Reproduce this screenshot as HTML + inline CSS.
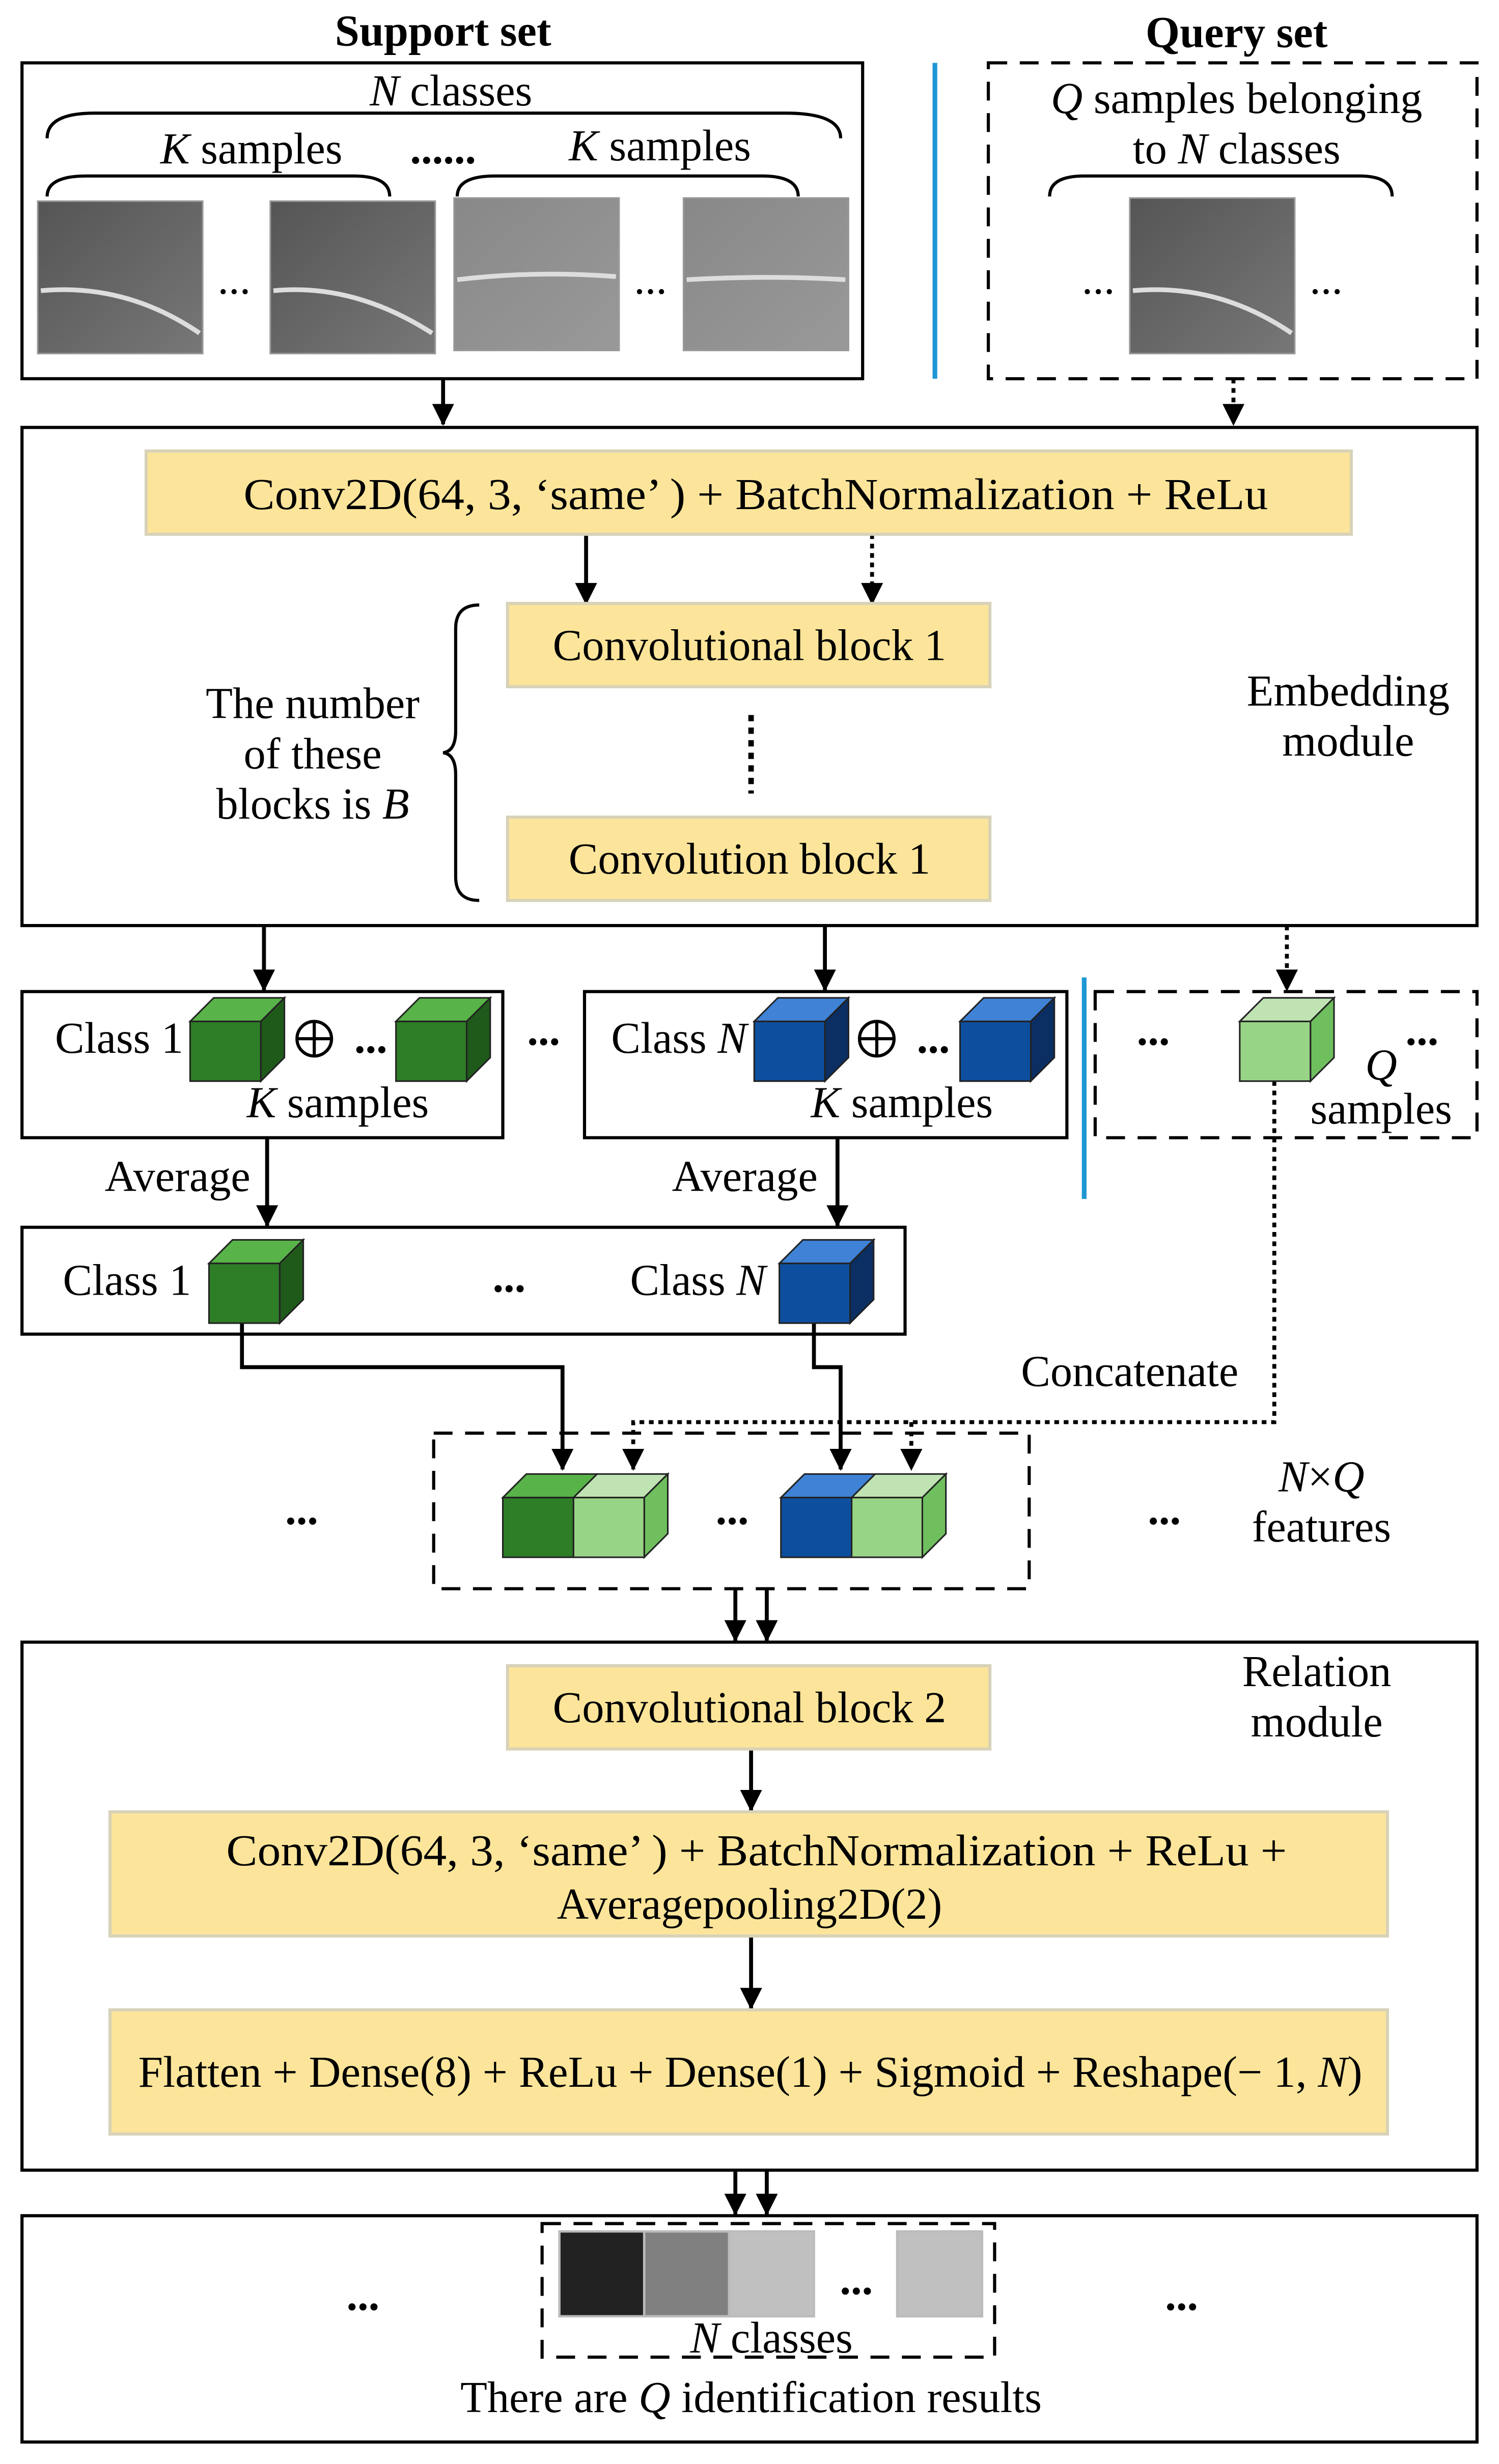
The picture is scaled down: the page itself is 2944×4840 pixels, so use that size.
<!DOCTYPE html>
<html><head><meta charset="utf-8"><style>
html,body{margin:0;padding:0;background:#fff}
svg{display:block}
text{font-family:"Liberation Serif",serif;font-size:28px;fill:#000}
</style></head><body>
<svg width="2944" height="4840" viewBox="0 0 954 1568" preserveAspectRatio="none" xmlns="http://www.w3.org/2000/svg">
<defs>
<marker id="a2" markerWidth="14" markerHeight="14" refX="13" refY="7" orient="auto" markerUnits="userSpaceOnUse"><path d="M0,0 L14,7 L0,14 z" fill="#000"/></marker>
<linearGradient id="g1" x1="0" y1="0" x2="1" y2="1"><stop offset="0" stop-color="#555"/><stop offset="1" stop-color="#777"/></linearGradient>
<linearGradient id="g2" x1="0" y1="0" x2="1" y2="1"><stop offset="0" stop-color="#888"/><stop offset="1" stop-color="#999"/></linearGradient>
</defs>
<g fill="none" stroke="#000" stroke-width="2">
<rect x="14" y="40" width="535" height="201"/>
<rect x="629" y="40" width="311" height="201" stroke-dasharray="12,8"/>
<line x1="595" y1="40" x2="595" y2="241" stroke="#1f97d4" stroke-width="3"/>
<path d="M30,88 Q30,72 60,72 L500,72 Q535,72 535,88"/>
<path d="M30,125 Q30,112 55,112 L225,112 Q248,112 248,125"/>
<path d="M291,125 Q291,112 315,112 L485,112 Q508,112 508,125"/>
<path d="M668,125 Q668,112 690,112 L865,112 Q886,112 886,125"/>
<rect x="14" y="272" width="926" height="317"/>
<path d="M305,385 Q290,385 290,400 L290,465 Q290,478 282,479 Q290,480 290,493 L290,558 Q290,573 305,573"/>
<rect x="14" y="631" width="306" height="93"/>
<rect x="372" y="631" width="307" height="93"/>
<rect x="697" y="631" width="243" height="93" stroke-dasharray="12,8"/>
<line x1="690" y1="622" x2="690" y2="763" stroke="#1f97d4" stroke-width="3"/>
<rect x="14" y="781" width="562" height="68"/>
<rect x="276" y="912" width="379" height="99" stroke-dasharray="12,8"/>
<rect x="14" y="1045" width="926" height="336"/>
<rect x="14" y="1410" width="926" height="144"/>
<rect x="345" y="1415" width="288" height="85" stroke-dasharray="12,8"/>
</g>
<g stroke="#999" stroke-width="1">
<rect x="24" y="128" width="105" height="97" fill="url(#g1)"/>
<rect x="172" y="128" width="105" height="97" fill="url(#g1)"/>
<rect x="289" y="126" width="105" height="97" fill="url(#g2)"/>
<rect x="435" y="126" width="105" height="97" fill="url(#g2)"/>
<rect x="719" y="126" width="105" height="99" fill="url(#g1)"/>
</g>
<g fill="none" stroke="#ddd" stroke-width="3">
<path d="M26,185 Q80,180 127,212"/><path d="M174,185 Q225,180 275,212"/>
<path d="M291,178 Q340,172 392,176"/><path d="M437,178 Q490,175 538,178"/>
<path d="M721,185 Q775,180 822,212"/>
</g>
<text x="282" y="29" text-anchor="middle" font-weight="bold">Support set</text>
<text x="787" y="30" text-anchor="middle" font-weight="bold">Query set</text>
<text x="287" y="67" text-anchor="middle"><tspan font-style="italic">N</tspan> classes</text>
<text x="160" y="104" text-anchor="middle"><tspan font-style="italic">K</tspan> samples</text>
<text x="420" y="102" text-anchor="middle"><tspan font-style="italic">K</tspan> samples</text>
<text x="282" y="104" text-anchor="middle" font-weight="bold">......</text>
<text x="149" y="187" text-anchor="middle">...</text>
<text x="414" y="187" text-anchor="middle">...</text>
<text x="699" y="187" text-anchor="middle">...</text>
<text x="844" y="187" text-anchor="middle">...</text>
<text x="787" y="72" text-anchor="middle"><tspan font-style="italic">Q</tspan> samples belonging</text>
<text x="787" y="104" text-anchor="middle">to <tspan font-style="italic">N</tspan> classes</text>
<g stroke="#000" stroke-width="2.5" fill="none">
<line x1="282" y1="241" x2="282" y2="270" marker-end="url(#a2)"/>
<line x1="785" y1="241" x2="785" y2="270" stroke-dasharray="3,3" marker-end="url(#a2)"/>
<line x1="373" y1="340" x2="373" y2="384" marker-end="url(#a2)"/>
<line x1="555" y1="340" x2="555" y2="384" stroke-dasharray="3,3" marker-end="url(#a2)"/>
<line x1="478" y1="455" x2="478" y2="505" stroke-dasharray="4,4" stroke-width="3.5"/>
<line x1="168" y1="589" x2="168" y2="630" marker-end="url(#a2)"/>
<line x1="525" y1="589" x2="525" y2="630" marker-end="url(#a2)"/>
<line x1="819" y1="589" x2="819" y2="630" stroke-dasharray="3,3" marker-end="url(#a2)"/>
<line x1="170" y1="724" x2="170" y2="780" marker-end="url(#a2)"/>
<line x1="533" y1="724" x2="533" y2="780" marker-end="url(#a2)"/>
<path d="M154,842 L154,870 L358,870 L358,935" marker-end="url(#a2)"/>
<path d="M518,842 L518,870 L535,870 L535,935" marker-end="url(#a2)"/>
<path d="M811,688 L811,905 L403,905 L403,935" stroke-dasharray="3,3" marker-end="url(#a2)"/>
<path d="M580,905 L580,935" stroke-dasharray="3,3" marker-end="url(#a2)"/>
<line x1="468" y1="1011" x2="468" y2="1044" marker-end="url(#a2)"/>
<line x1="488" y1="1011" x2="488" y2="1044" marker-end="url(#a2)"/>
<line x1="478" y1="1113" x2="478" y2="1152" marker-end="url(#a2)"/>
<line x1="478" y1="1232" x2="478" y2="1278" marker-end="url(#a2)"/>
<line x1="468" y1="1381" x2="468" y2="1409" marker-end="url(#a2)"/>
<line x1="488" y1="1381" x2="488" y2="1409" marker-end="url(#a2)"/>
</g>
<g fill="#fce59a" stroke="#d8d2b8" stroke-width="2">
<rect x="93" y="287" width="767" height="53"/>
<rect x="323" y="384" width="307" height="53"/>
<rect x="323" y="520" width="307" height="53"/>
<rect x="323" y="1060" width="307" height="53"/>
<rect x="70" y="1153" width="813" height="79"/>
<rect x="70" y="1279" width="813" height="79"/>
</g>
<text x="155" y="324" textLength="652" lengthAdjust="spacingAndGlyphs">Conv2D(64, 3, ‘same’ ) + BatchNormalization + ReLu</text>
<text x="477" y="420" text-anchor="middle">Convolutional block 1</text>
<text x="477" y="556" text-anchor="middle">Convolution block 1</text>
<text x="199" y="457" text-anchor="middle">The number</text>
<text x="199" y="489" text-anchor="middle">of these</text>
<text x="199" y="521" text-anchor="middle">blocks is <tspan font-style="italic">B</tspan></text>
<text x="858" y="449" text-anchor="middle">Embedding</text>
<text x="858" y="481" text-anchor="middle">module</text>
<text x="477" y="1096" text-anchor="middle">Convolutional block 2</text>
<text x="144" y="1187" textLength="675" lengthAdjust="spacingAndGlyphs">Conv2D(64, 3, ‘same’ ) + BatchNormalization + ReLu +</text>
<text x="477" y="1221" text-anchor="middle">Averagepooling2D(2)</text>
<text x="88" y="1328" textLength="779" lengthAdjust="spacingAndGlyphs">Flatten + Dense(8) + ReLu + Dense(1) + Sigmoid + Reshape(− 1, <tspan font-style="italic">N</tspan>)</text>
<text x="838" y="1073" text-anchor="middle">Relation</text>
<text x="838" y="1105" text-anchor="middle">module</text>
<g stroke="#222" stroke-width="1">
<path d="M121,650 l15,-15 h45 l-15,15z" fill="#58b348"/><path d="M166,650 l15,-15 v38 l-15,15z" fill="#1f5a1a"/><rect x="121" y="650" width="45" height="38" fill="#2e7d27"/>
<path d="M252,650 l15,-15 h45 l-15,15z" fill="#58b348"/><path d="M297,650 l15,-15 v38 l-15,15z" fill="#1f5a1a"/><rect x="252" y="650" width="45" height="38" fill="#2e7d27"/>
<path d="M480,650 l15,-15 h45 l-15,15z" fill="#3f82d6"/><path d="M525,650 l15,-15 v38 l-15,15z" fill="#0b2e63"/><rect x="480" y="650" width="45" height="38" fill="#0d4f9e"/>
<path d="M611,650 l15,-15 h45 l-15,15z" fill="#3f82d6"/><path d="M656,650 l15,-15 v38 l-15,15z" fill="#0b2e63"/><rect x="611" y="650" width="45" height="38" fill="#0d4f9e"/>
<path d="M789,650 l15,-15 h45 l-15,15z" fill="#bfe3b2"/><path d="M834,650 l15,-15 v38 l-15,15z" fill="#6fbf5e"/><rect x="789" y="650" width="45" height="38" fill="#98d486"/>
<path d="M133,804 l15,-15 h45 l-15,15z" fill="#58b348"/><path d="M178,804 l15,-15 v38 l-15,15z" fill="#1f5a1a"/><rect x="133" y="804" width="45" height="38" fill="#2e7d27"/>
<path d="M496,804 l15,-15 h45 l-15,15z" fill="#3f82d6"/><path d="M541,804 l15,-15 v38 l-15,15z" fill="#0b2e63"/><rect x="496" y="804" width="45" height="38" fill="#0d4f9e"/>
<path d="M320,953 l15,-15 h45 l-15,15z" fill="#58b348"/><rect x="320" y="953" width="45" height="38" fill="#2e7d27"/>
<path d="M365,953 l15,-15 h45 l-15,15z" fill="#bfe3b2"/><path d="M410,953 l15,-15 v38 l-15,15z" fill="#6fbf5e"/><rect x="365" y="953" width="45" height="38" fill="#98d486"/>
<path d="M497,953 l15,-15 h45 l-15,15z" fill="#3f82d6"/><rect x="497" y="953" width="45" height="38" fill="#0d4f9e"/>
<path d="M542,953 l15,-15 h45 l-15,15z" fill="#bfe3b2"/><path d="M587,953 l15,-15 v38 l-15,15z" fill="#6fbf5e"/><rect x="542" y="953" width="45" height="38" fill="#98d486"/>
</g>
<g fill="none" stroke="#000" stroke-width="2"><circle cx="200" cy="661" r="11"/><path d="M189,661h22M200,650v22"/><circle cx="558" cy="661" r="11"/><path d="M547,661h22M558,650v22"/></g>
<text x="35" y="670">Class 1</text>
<text x="236" y="670" text-anchor="middle" font-weight="bold">...</text>
<text x="215" y="711" text-anchor="middle"><tspan font-style="italic">K</tspan> samples</text>
<text x="389" y="670">Class <tspan font-style="italic">N</tspan></text>
<text x="594" y="670" text-anchor="middle" font-weight="bold">...</text>
<text x="574" y="711" text-anchor="middle"><tspan font-style="italic">K</tspan> samples</text>
<text x="346" y="665" text-anchor="middle" font-weight="bold">...</text>
<text x="734" y="665" text-anchor="middle" font-weight="bold">...</text>
<text x="905" y="665" text-anchor="middle" font-weight="bold">...</text>
<text x="879" y="687" text-anchor="middle" font-style="italic">Q</text>
<text x="879" y="715" text-anchor="middle">samples</text>
<text x="113" y="758" text-anchor="middle">Average</text>
<text x="474" y="758" text-anchor="middle">Average</text>
<text x="40" y="824">Class 1</text>
<text x="401" y="824">Class <tspan font-style="italic">N</tspan></text>
<text x="324" y="822" text-anchor="middle" font-weight="bold">...</text>
<text x="719" y="882" text-anchor="middle">Concatenate</text>
<text x="192" y="970" text-anchor="middle" font-weight="bold">...</text>
<text x="466" y="970" text-anchor="middle" font-weight="bold">...</text>
<text x="741" y="970" text-anchor="middle" font-weight="bold">...</text>
<text x="841" y="949" text-anchor="middle"><tspan font-style="italic">N</tspan>×<tspan font-style="italic">Q</tspan></text>
<text x="841" y="981" text-anchor="middle">features</text>
<g stroke="#bbb" stroke-width="1.5">
<rect x="356" y="1420" width="54" height="54" fill="#222"/>
<rect x="410" y="1420" width="54" height="54" fill="#808080"/>
<rect x="464" y="1420" width="54" height="54" fill="#c0c0c0"/>
<rect x="571" y="1420" width="54" height="54" fill="#c0c0c0"/>
</g>
<text x="545" y="1460" text-anchor="middle" font-weight="bold">...</text>
<text x="231" y="1470" text-anchor="middle" font-weight="bold">...</text>
<text x="752" y="1470" text-anchor="middle" font-weight="bold">...</text>
<text x="491" y="1497" text-anchor="middle"><tspan font-style="italic">N</tspan> classes</text>
<text x="478" y="1535" text-anchor="middle">There are <tspan font-style="italic">Q</tspan> identification results</text>
</svg>
</body></html>
